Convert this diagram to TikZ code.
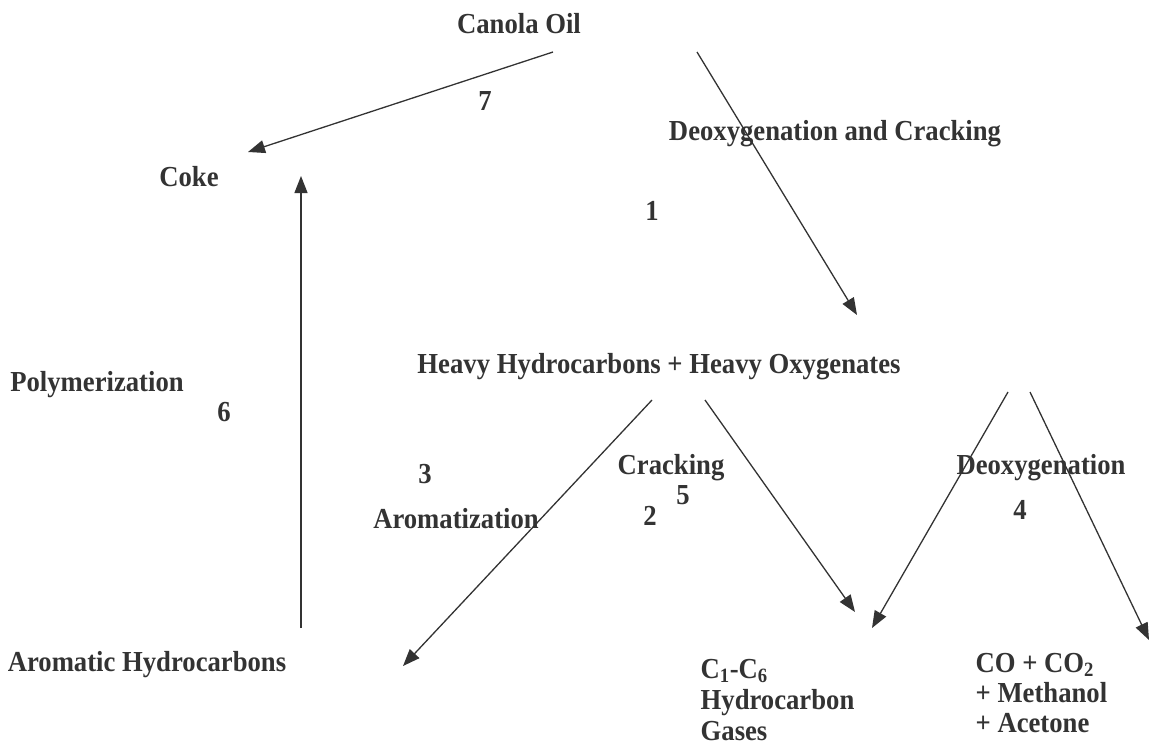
\documentclass[tikz,border=0pt]{standalone}
\usepackage{fontspec}
\setmainfont[FakeStretch=0.92]{Liberation Serif}
\usetikzlibrary{arrows.meta}
\definecolor{ink}{HTML}{333333}

\begin{document}
\begin{tikzpicture}[x=1pt, y=-1pt, line width=1.3pt, draw=ink,
    flow/.style={-{Triangle[length=17pt,width=13pt]}}]
    \useasboundingbox (0,0) rectangle (1151,747);
            \begin{scope}[every node/.style={font=\fontsize{29}{31}\selectfont\bfseries, text=ink, inner sep=0pt}]

                \node (oil) at (519,24) {Canola Oil};
                \node (coke) at (189,177) {Coke};
                \node (heavy) at (659,367) {Heavy Hydrocarbons + Heavy Oxygenates};
                \node (arom) at (147,665) {Aromatic Hydrocarbons};
                \node[anchor=base west, align=left] (gases) at (700,740) {C\textsubscript{1}-C\textsubscript{6}\\Hydrocarbon\\Gases};
                \node[anchor=base west, align=left, font=\fontsize{29}{30}\selectfont\bfseries] (oxy) at (975,732) {CO + CO\textsubscript{2}\\+ Methanol\\+ Acetone};

                \node (deoxcrack) at (835,134) {Deoxygenation and Cracking};
                \node (poly) at (97,385) {Polymerization};
                \node (aromz) at (456,519) {Aromatization};
                \node (crack) at (671,468) {Cracking};
                \node (deox) at (1041,468) {Deoxygenation};

                \node (n1) at (652,211) {1};
                \node (n2) at (650,516) {2};
                \node (n3) at (425,474) {3};
                \node (n4) at (1020,510) {4};
                \node (n5) at (683,495) {5};
                \node (n6) at (224,412) {6};
                \node (n7) at (485,101) {7};

            \end{scope}
            % arrow ends
            \coordinate (a7) at (553,52);   \coordinate (b7) at (248,152);
            \coordinate (a1) at (697,52);   \coordinate (b1) at (857,315);
            \coordinate (a6) at (301,628);  \coordinate (b6) at (301,176);
            \coordinate (a3) at (652,400);  \coordinate (b3) at (403,666);
            \coordinate (a5) at (705,400);  \coordinate (b5) at (855,612);
            \coordinate (a4) at (1008,392); \coordinate (b4) at (872,628);
            \coordinate (c4) at (1030,392); \coordinate (d4) at (1149,640);

            \path (a7) edge[flow] (b7);
            \path (a1) edge[flow] (b1);
            \path (a6) edge[flow] (b6);
            \path (a3) edge[flow] (b3);
            \path (a5) edge[flow] (b5);
            \path (a4) edge[flow] (b4);
            \path (c4) edge[flow] (d4);
        \end{tikzpicture}
\end{document}
